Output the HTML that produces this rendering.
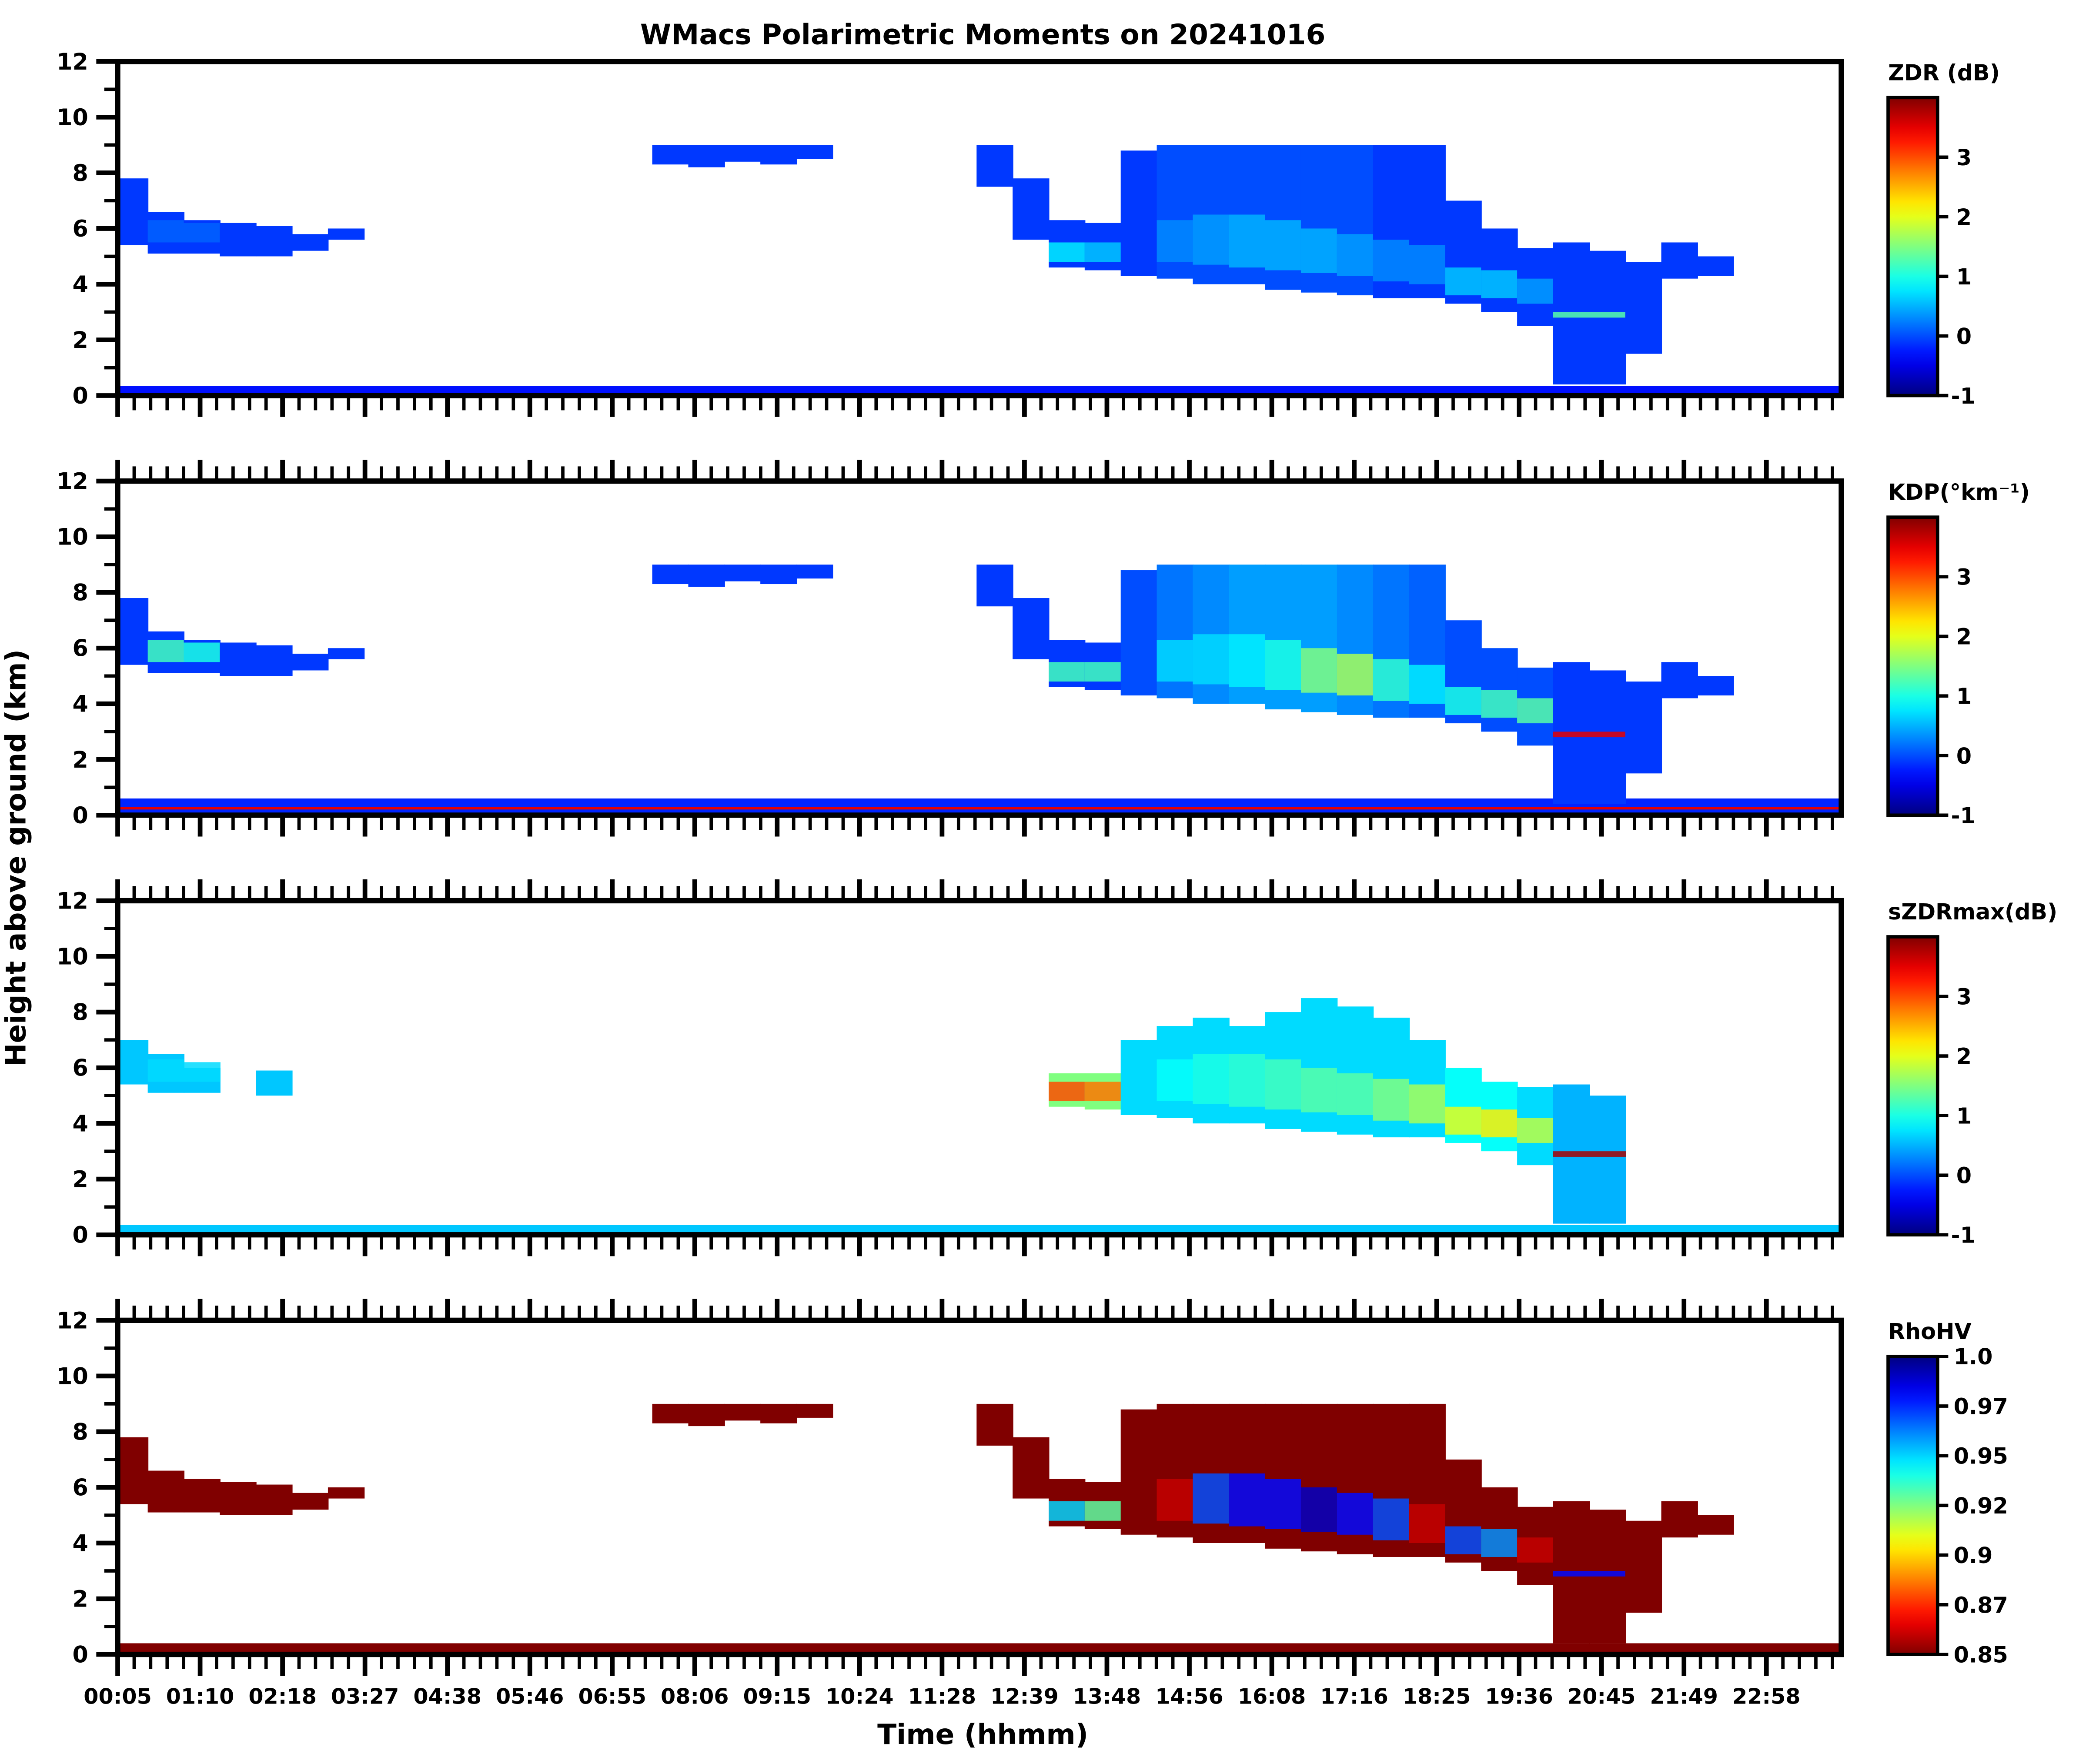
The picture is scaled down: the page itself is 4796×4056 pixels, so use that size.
<!DOCTYPE html>
<html><head><meta charset="utf-8"><style>
html,body{margin:0;padding:0;background:#fff}
svg{display:block}
text{font-family:"DejaVu Sans","Liberation Sans",sans-serif;font-weight:bold;fill:#000}
</style></head><body>
<svg id="fig" xmlns="http://www.w3.org/2000/svg" width="4796" height="4056" viewBox="0 0 1560 1320" preserveAspectRatio="none">
<text x="735" y="33" font-size="21" text-anchor="middle">WMacs Polarimetric Moments on 20241016</text>
<text transform="translate(19,642) rotate(-90)" font-size="21" text-anchor="middle">Height above ground (km)</text>
<text x="735" y="1305" font-size="21" text-anchor="middle">Time (hhmm)</text>
</svg>
<script>
// ---- data ----
const timeLabels=["00:05","01:10","02:18","03:27","04:38","05:46","06:55","08:06","09:15","10:24","11:28","12:39","13:48","14:56","16:08","17:16","18:25","19:36","20:45","21:49","22:58"];
const heightTicks=[0,2,4,6,8,10,12];
const binHours=[0,0.5,1,1.5,2,2.5,3,3.5,4,4.5,5,5.5,6,6.5,7,7.5,8,8.5,9,9.5,10,10.5,11,11.5,12,12.5,13,13.5,14,14.5,15,15.5,16,16.5,17,17.5,18,18.5,19,19.5,20,20.5,21,21.5,22,22.5,23,23.5];
const cloudBase=[5.4,5.1,5.1,5.0,5.0,5.2,5.6,null,null,null,null,null,null,null,null,8.3,8.2,8.4,8.3,8.5,null,null,null,null,7.5,5.6,4.6,4.5,4.3,4.2,4.0,4.0,3.8,3.7,3.6,3.5,3.5,3.3,3.0,2.5,0.4,0.4,1.5,4.2,4.3,null,null,null];
const cloudTop=[7.8,6.6,6.3,6.2,6.1,5.8,6.0,null,null,null,null,null,null,null,null,9.0,9.0,9.0,9.0,9.0,null,null,null,null,9.0,7.8,6.3,6.2,8.8,9.0,9.0,9.0,9.0,9.0,9.0,9.0,9.0,7.0,6.0,5.3,5.5,5.2,4.8,5.5,5.0,null,null,null];
const szdrTop=[7.0,6.5,6.0,null,5.9,null,null,null,null,null,null,null,null,null,null,null,null,null,null,null,null,null,null,null,7.4,null,5.8,5.8,7.0,7.5,7.8,7.5,8.0,8.5,8.2,7.8,7.0,6.0,5.5,5.3,5.4,5.0,null,null,null,null,null,null];
const coreBase=[null,5.5,5.5,null,null,null,null,null,null,null,null,null,null,null,null,null,null,null,null,null,null,null,null,null,null,null,4.8,4.8,null,4.8,4.7,4.6,4.5,4.4,4.3,4.1,4.0,3.6,3.5,3.3,2.8,2.8,null,null,null,null,null,null];
const coreTop=[null,6.3,6.2,null,null,null,null,null,null,null,null,null,null,null,null,null,null,null,null,null,null,null,null,null,null,null,5.5,5.5,null,6.3,6.5,6.5,6.3,6.0,5.8,5.6,5.4,4.6,4.5,4.2,3.0,3.0,null,null,null,null,null,null];
const zdrVals=[-0.1,-0.1,-0.1,-0.1,-0.1,-0.1,-0.1,null,null,null,null,null,null,null,null,-0.1,-0.1,-0.1,-0.1,-0.1,null,null,null,null,-0.1,-0.1,-0.1,-0.1,-0.1,0.0,0.0,0.0,0.0,0.0,0.0,-0.1,-0.1,-0.1,-0.1,-0.1,-0.1,-0.1,-0.1,-0.1,-0.1,null,null,null];
const zdrCore=[null,0.1,0.1,null,null,null,null,null,null,null,null,null,null,null,null,null,null,null,null,null,null,null,null,null,null,null,0.8,0.6,null,0.3,0.4,0.5,0.5,0.5,0.4,0.3,0.3,0.6,0.6,0.4,1.3,1.3,null,null,null,null,null,null];
const kdpVals=[-0.1,-0.1,-0.1,-0.1,-0.1,-0.1,-0.1,null,null,null,null,null,null,null,null,-0.1,-0.1,-0.1,-0.1,-0.1,null,null,null,null,-0.1,-0.1,-0.1,-0.1,0.0,0.2,0.3,0.4,0.4,0.4,0.3,0.2,0.1,0.0,0.0,0.0,-0.1,-0.1,-0.1,-0.1,-0.1,null,null,null];
const kdpCore=[null,1.2,1.0,null,null,null,null,null,null,null,null,null,null,null,null,null,null,null,null,null,null,null,null,null,null,null,1.2,1.2,null,0.7,0.7,0.8,1.0,1.5,1.7,1.1,0.8,1.0,1.2,1.3,3.5,3.5,null,null,null,null,null,null];
const szdrVals=[0.6,0.6,0.6,null,0.6,null,null,null,null,null,null,null,null,null,null,null,null,null,null,null,null,null,null,null,0.6,null,1.5,1.5,0.7,0.7,0.7,0.7,0.7,0.7,0.7,0.7,0.7,0.9,0.9,0.7,0.5,0.5,null,null,null,null,null,null];
const szdrCore=[null,0.7,0.7,null,null,null,null,null,null,null,null,null,null,null,null,null,null,null,null,null,null,null,null,null,null,null,3.0,2.8,null,0.9,1.0,1.1,1.2,1.3,1.3,1.5,1.7,2.0,2.2,1.8,3.8,3.8,null,null,null,null,null,null];
const rhoVals=[0.85,0.85,0.85,0.85,0.85,0.85,0.85,null,null,null,null,null,null,null,null,0.85,0.85,0.85,0.85,0.85,null,null,null,null,0.85,0.85,0.85,0.85,0.85,0.85,0.85,0.85,0.85,0.85,0.85,0.85,0.85,0.85,0.85,0.85,0.85,0.85,0.85,0.85,0.85,null,null,null];
const rhoCore=[null,0.85,0.85,null,null,null,null,null,null,null,null,null,null,null,null,null,null,null,null,null,null,null,null,null,null,null,0.95,0.93,null,0.86,0.97,0.98,0.98,0.99,0.98,0.97,0.86,0.97,0.96,0.86,0.98,0.98,null,null,null,null,null,null];
const groundTop=[0.35,0.6,0.35,0.4];
const groundVals=[-0.3,-0.2,0.6,0.85];
const rhoTickLabels=["1.0","0.97","0.95","0.92","0.9","0.87","0.85"];
const linTickLabels=["3","2","1","0","-1"];
const linTickValues=[3,2,1,0,-1];
const cbTitles=["ZDR (dB)","KDP(°km⁻¹)","sZDRmax(dB)","RhoHV"];

// ---- layout ----
const NS="http://www.w3.org/2000/svg";
const svg=document.getElementById('fig');
const L=88,R=1377,panelTop=[46,360,674,988],PH=250;
const t0=0.083,pxPerHour=53.9;
function xOf(t){return L+(t-t0)*pxPerHour;}
function yOf(p,h){return panelTop[p]+PH-(h/12)*PH;}
function jet(v){
  function c(x){return Math.max(0,Math.min(1,x));}
  const r=c(Math.min(4*v-1.5,-4*v+4.5)),g=c(Math.min(4*v-0.5,-4*v+3.5)),b=c(Math.min(4*v+0.5,-4*v+2.5));
  return 'rgb('+Math.round(r*255)+','+Math.round(g*255)+','+Math.round(b*255)+')';
}
function colorFor(p,v){ if(p===3) return jet(Math.max(0,Math.min(1,(1.0-v)/0.15))); return jet(Math.max(0,Math.min(1,(v+1)/5))); }
function mk(tag,attrs,parent){const e=document.createElementNS(NS,tag);for(const k in attrs)e.setAttribute(k,attrs[k]);(parent||svg).appendChild(e);return e;}

const defs=mk('defs',{});
const panelVals=[zdrVals,kdpVals,szdrVals,rhoVals];
const panelCore=[zdrCore,kdpCore,szdrCore,rhoCore];
const names=["zdr","kdp","szdrmax","rhohv"];

for(let p=0;p<4;p++){
  const cp=mk('clipPath',{id:'clip'+p},defs);
  mk('rect',{x:L,y:panelTop[p],width:R-L,height:PH},cp);
  const g=mk('g',{'clip-path':'url(#clip'+p+')'});
  
  
  const gr=mk('rect',{x:L,y:yOf(p,groundTop[p]),width:R-L,height:yOf(p,0)-yOf(p,groundTop[p]),fill:colorFor(p,groundVals[p])},g);
  
  
  if(p===1){
    const rl=mk('rect',{x:L,y:yOf(p,0.3),width:R-L,height:2,fill:jet(0.9)},g);
    
    
  }
  for(let i=0;i<binHours.length;i++){
    const v=panelVals[p][i];
    const top=(p===2)?szdrTop[i]:cloudTop[i];
    if(v!==null && cloudBase[i]!==null && top!==null){
      const x0=xOf(binHours[i]),x1=xOf(binHours[i]+0.5);
      const r=mk('rect',{x:x0,y:yOf(p,top),width:x1-x0+0.5,height:yOf(p,cloudBase[i])-yOf(p,top),fill:colorFor(p,v)},g);
      
      
    }
    const cv=panelCore[p][i];
    if(v!==null && cv!==null && coreBase[i]!==null){
      const x0=xOf(binHours[i]),x1=xOf(binHours[i]+0.5);
      const r=mk('rect',{x:x0,y:yOf(p,coreTop[i]),width:x1-x0+0.5,height:yOf(p,coreBase[i])-yOf(p,coreTop[i]),fill:colorFor(p,cv),opacity:0.85},g);
      
      
    }
  }
  const fr=mk('rect',{x:L,y:panelTop[p],width:R-L,height:PH,fill:'none',stroke:'#000','stroke-width':4});
  
  
  for(let h=0;h<=12;h++){
    const major=h%2===0,y=yOf(p,h);
    const tk=mk('line',{x1:L-(major?16:10),x2:L,y1:y,y2:y,stroke:'#000','stroke-width':major?3.5:2.5});
    
    
  }
  heightTicks.forEach(h=>{
    const t=mk('text',{x:L-22,y:yOf(p,h)+6,'font-size':17,'text-anchor':'end'});
    t.textContent=h;
    
    
  });
  const step=61.65/5;
  for(let k=0;L+k*step<=R+0.5;k++){
    const x=L+k*step,major=k%5===0,len=major?16:11;
    const b=mk('line',{x1:x,x2:x,y1:panelTop[p]+PH,y2:panelTop[p]+PH+len,stroke:'#000','stroke-width':major?3.5:2.5});
    
    
    if(p>0){
      const tp=mk('line',{x1:x,x2:x,y1:panelTop[p]-len,y2:panelTop[p],stroke:'#000','stroke-width':major?3.5:2.5});
      
      
    }
  }
  const cx=1412,cw=37,ct=panelTop[p]+27,cb=panelTop[p]+PH;
  const gid='grad'+p;
  const lg=mk('linearGradient',{id:gid,x1:0,y1:1,x2:0,y2:0},defs);
  for(let s=0;s<=20;s++){
    const f=s/20;
    mk('stop',{offset:f,'stop-color':p===3?jet(1-f):jet(f)},lg);
  }
  const cr=mk('rect',{x:cx,y:ct,width:cw,height:cb-ct,fill:'url(#'+gid+')',stroke:'#000','stroke-width':2.5});
  
  
  const ttl=mk('text',{x:1412,y:panelTop[p]+14,'font-size':16.5});
  ttl.textContent=cbTitles[p];
  
  
  if(p===3){
    rhoTickLabels.forEach((lab,k)=>{
      const y=ct+k*(cb-ct)/6;
      const l=mk('line',{x1:cx+cw,x2:cx+cw+8,y1:y,y2:y,stroke:'#000','stroke-width':2.5});
      
      
      const t=mk('text',{x:cx+cw+12,y:y+6,'font-size':16.5});
      t.textContent=lab;
      
      
    });
  } else {
    linTickValues.forEach((v,k)=>{
      const y=cb-(v+1)/5*(cb-ct);
      const l=mk('line',{x1:cx+cw,x2:cx+cw+8,y1:y,y2:y,stroke:'#000','stroke-width':2.5});
      
      
      const t=mk('text',{x:cx+cw+(v<0?10:14),y:y+6,'font-size':16.5});
      t.textContent=linTickLabels[k];
      
      
    });
  }
}
timeLabels.forEach((lab,k)=>{
  const t=mk('text',{x:L+k*61.65,y:1275,'font-size':16,'text-anchor':'middle'});
  t.textContent=lab;
  
  
});
</script>
</body></html>
